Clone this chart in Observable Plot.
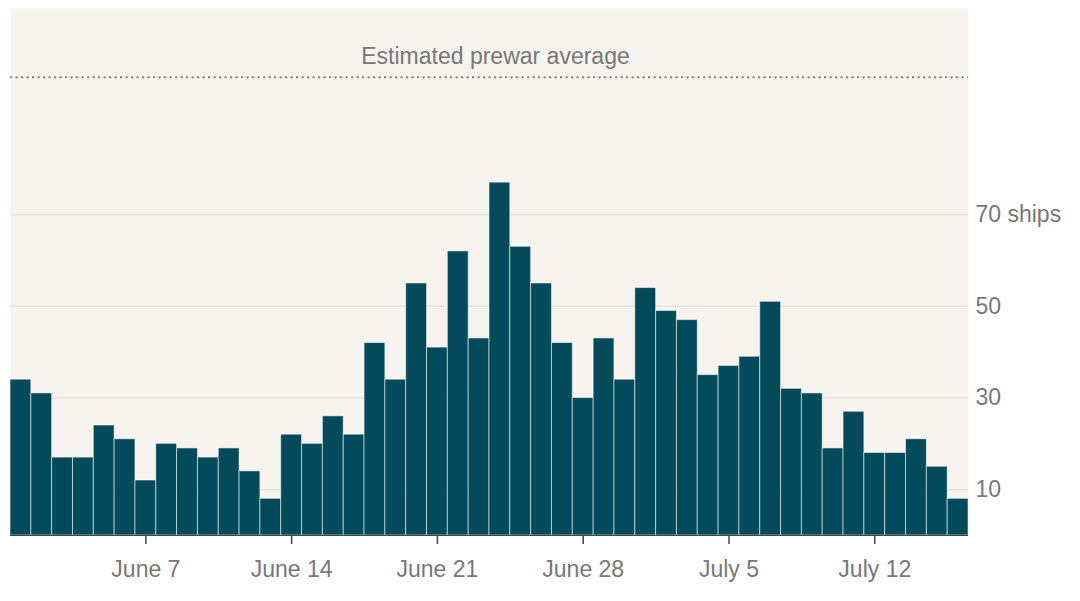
<!DOCTYPE html>
<html><head><meta charset="utf-8">
<script src="https://cdn.jsdelivr.net/npm/d3@7"></script>
<script src="https://cdn.jsdelivr.net/npm/@observablehq/plot@0.6"></script>
<style>body{margin:0;background:#fff;}</style>
</head><body><div id="chart"></div>
<script>
// Daily ship transits, first bar = June 1
const startDate = "2025-06-01";
const shipCounts = [34,31,17,17,24,21,12,20,19,17,19,14,8,22,20,26,22,42,34,55,41,62,43,77,63,55,42,30,43,34,54,49,47,35,37,39,51,32,31,19,27,18,18,21,15,8];
const tickDates = ["2025-06-07","2025-06-14","2025-06-21","2025-06-28","2025-07-05","2025-07-12"];
const tickLabels = ["June 7","June 14","June 21","June 28","July 5","July 12"];
const yTicks = [10,30,50,70];
const yTickLabels = ["10","30","50","70 ships"];
const prewarAverage = 100;
const prewarLabel = "Estimated prewar average";
const yMax = 115;

const fmt = d3.utcFormat("%Y-%m-%d");
const start = new Date(startDate + "T00:00:00Z");
const data = shipCounts.map((count, i) => ({day: fmt(d3.utcDay.offset(start, i)), count}));

const chart = Plot.plot({
  width: 1080, height: 601,
  marginLeft: 10, marginRight: 112, marginTop: 8, marginBottom: 66,
  style: {fontFamily: "'Liberation Sans', Arial, sans-serif", fontSize: "23px", color: "#777", background: "#fff"},
  x: {type: "band", domain: data.map(d => d.day), padding: 0, axis: null},
  y: {domain: [0, yMax], axis: null},
  marks: [
    Plot.frame({fill: "#f7f4ef", stroke: null}),
    Plot.ruleY(yTicks, {stroke: "#e6e3df", strokeWidth: 1.5}),
    Plot.ruleY([prewarAverage], {stroke: "#858585", strokeWidth: 2.2, strokeDasharray: "2.2,3.3"}),
    Plot.text([prewarLabel], {y: () => prewarAverage, text: d => d, frameAnchor: "middle", dx: 6, dy: -21, fill: "#777", fontSize: 23}),
    Plot.barY(data, {x: "day", y: "count", fill: "#034a5b", stroke: "#fff", strokeOpacity: 0.55, strokeWidth: 1}),
    Plot.ruleY([0], {stroke: "#444", strokeWidth: 1.2}),
    Plot.axisX({ticks: tickDates, tickFormat: d => tickLabels[tickDates.indexOf(d)], tickSize: 9, tickPadding: 16, stroke: "#444", strokeWidth: 1.5, fill: "#777", fontSize: 23, label: null}),
    Plot.axisY({anchor: "right", ticks: yTicks, tickFormat: d => yTickLabels[yTicks.indexOf(d)], tickSize: 0, tickPadding: 7, fill: "#777", fontSize: 23, label: null})
  ]
});
document.getElementById("chart").appendChild(chart);
</script></body></html>
